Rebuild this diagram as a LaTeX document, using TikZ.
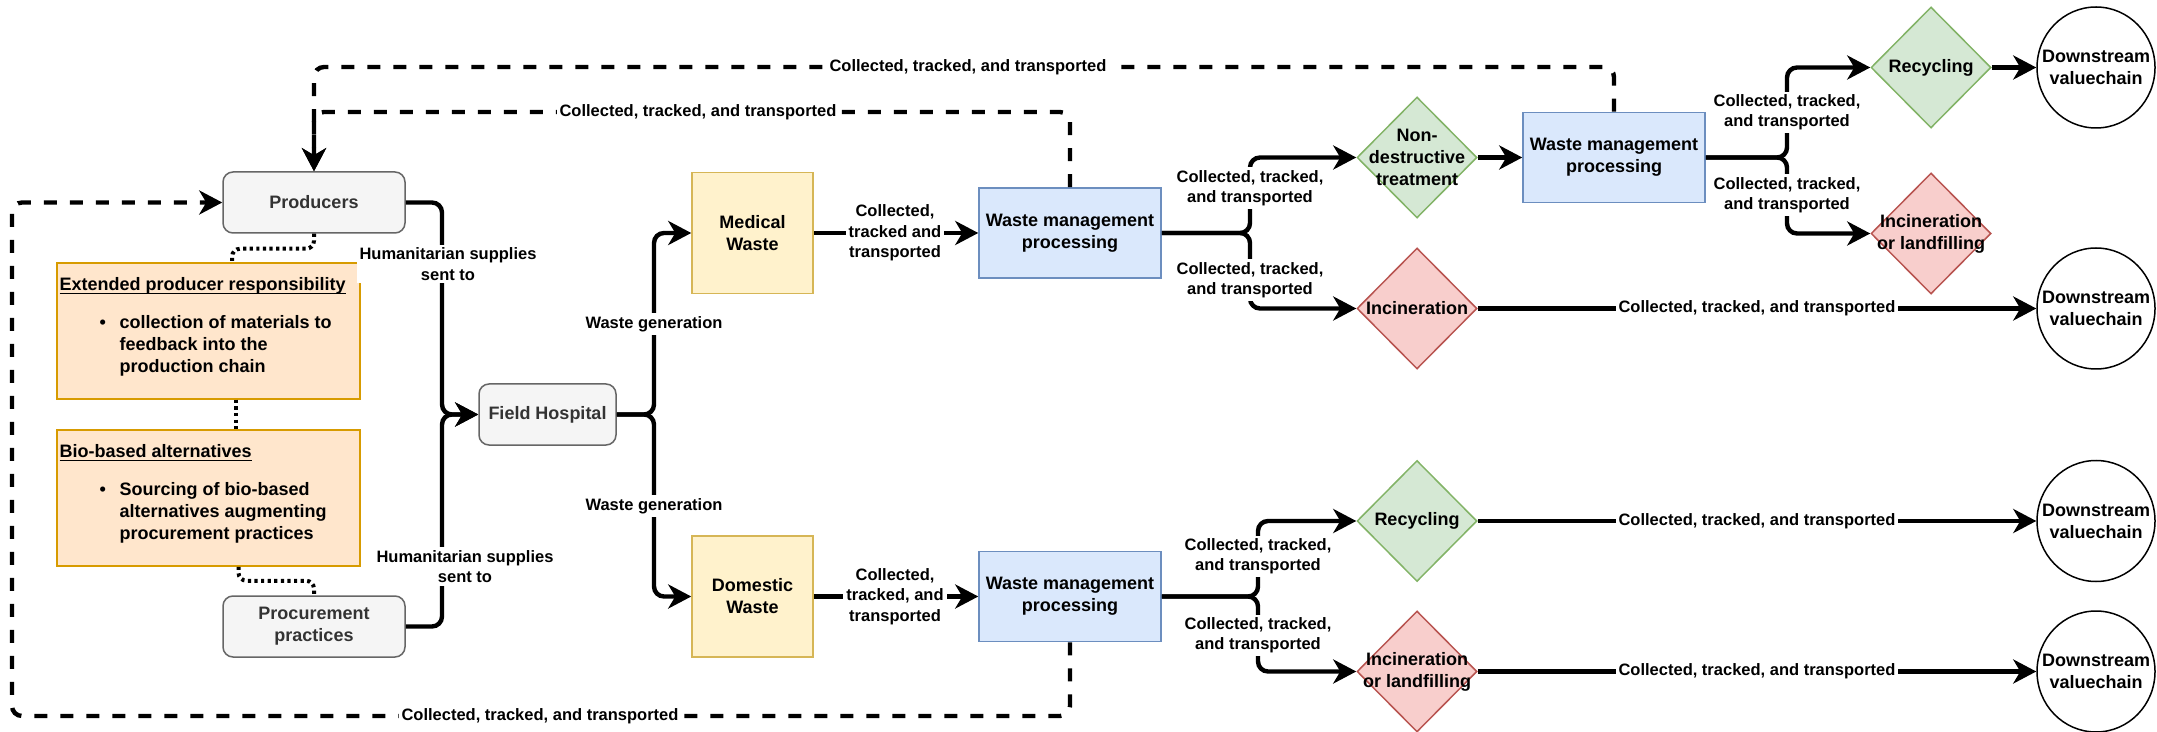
\documentclass[tikz,border=0pt]{standalone}
\usepackage{fontspec}
\setmainfont{Liberation Sans}
\usetikzlibrary{arrows.meta,shapes.geometric,calc}

\definecolor{greyfill}{HTML}{F5F5F5}
\definecolor{greyline}{HTML}{666666}
\definecolor{greytext}{HTML}{333333}
\definecolor{orfill}{HTML}{FFE6CC}
\definecolor{orline}{HTML}{D79B00}
\definecolor{yfill}{HTML}{FFF2CC}
\definecolor{yline}{HTML}{D6B656}
\definecolor{bfill}{HTML}{DAE8FC}
\definecolor{bline}{HTML}{6C8EBF}
\definecolor{gfill}{HTML}{D5E8D4}
\definecolor{gline}{HTML}{82B366}
\definecolor{rfill}{HTML}{F8CECC}
\definecolor{rline}{HTML}{B85450}

\newcommand\nodefont{\bfseries\fontsize{9}{11}\selectfont}
\newcommand\lblfont{\bfseries\fontsize{8.25}{10.2}\selectfont}
\newcommand\ulbox[1]{\setbox0\hbox{#1}\rlap{\rule[-2pt]{\wd0}{0.7pt}}\box0}
\newcommand\bulletitem{\makebox[30pt][l]{\hspace*{20pt}\textbullet}}

\begin{document}
\begin{tikzpicture}[x=0.5pt,y=-0.5pt,
  box/.style={draw, line width=0.75pt, inner sep=2pt, align=center, font=\nodefont},
  greybox/.style={box, fill=greyfill, draw=greyline, text=greytext, rounded corners=5pt,
    minimum width=91pt, minimum height=30.5pt},
  notebox/.style={box, fill=orfill, draw=orline, minimum width=151.5pt, minimum height=68pt},
  wastebox/.style={box, fill=yfill, draw=yline, minimum width=60.5pt, minimum height=60.5pt},
  procbox/.style={box, fill=bfill, draw=bline, minimum width=91pt, minimum height=45pt},
  decision/.style={diamond, draw, line width=0.75pt, inner sep=0pt,
    minimum width=60pt, minimum height=60.5pt},
  keep/.style={decision, fill=gfill, draw=gline},
  burn/.style={decision, fill=rfill, draw=rline},
  sink/.style={ellipse, draw, line width=0.75pt, fill=white, inner sep=0pt,
    minimum width=59pt, minimum height=60.5pt},
  inside/.style={label={[font=\nodefont, align=center]center:{#1}}},
  notetext/.style={label={[anchor=north west, inner sep=0pt, xshift=1.5pt, yshift=-7.25pt,
    align=left, font=\nodefont]north west:{#1}}},
  flow/.style={line width=2.2pt, rounded corners=5pt,
    -{Stealth[length=11.5pt, width=12pt, inset=3.5pt]}},
  back/.style={flow, dash pattern=on 6.5pt off 6.5pt},
  tie/.style={line width=2pt, rounded corners=4pt, dash pattern=on 1.6pt off 1.7pt},
  lbl/.style={fill=white, inner sep=1.5pt, align=center, font=\lblfont}]

\useasboundingbox (0,0) rectangle (2157,732);

% supply side
\node[greybox] (prod) at (314,202.5) {Producers};
\node[greybox] (proc) at (314,626.5) {Procurement\\practices};
\node[greybox, minimum width=68.5pt] (fh) at (547.5,414.5) {Field Hospital};
\node[notebox, notetext={\ulbox{Extended producer responsibility}\\[8pt]
  \bulletitem collection of materials to\\
  \hspace*{30pt}feedback into the\\
  \hspace*{30pt}production chain}] (epr) at (208.5,331) {};
\node[notebox, notetext={\ulbox{Bio-based alternatives}\\[8pt]
  \bulletitem Sourcing of bio-based\\
  \hspace*{30pt}alternatives augmenting\\
  \hspace*{30pt}procurement practices}] (bio) at (208.5,498) {};

% waste streams
\node[wastebox] (med) at (752.5,233) {Medical\\Waste};
\node[wastebox] (dom) at (752.5,596.5) {Domestic\\Waste};
\node[procbox] (wmp1) at (1070,233) {Waste management\\processing};
\node[procbox] (wmp3) at (1070,596.5) {Waste management\\processing};
\node[procbox] (wmp2) at (1614,157.5) {Waste management\\processing};

% treatment options
\node[keep, inside={Non-\\destructive\\treatment}] (nd) at (1417,157.5) {};
\node[burn, inside={Incineration}] (inc1) at (1417,308.5) {};
\node[keep, inside={Recycling}] (rec1) at (1931,67.5) {};
\node[burn, inside={Incineration\\or landfilling}] (il1) at (1931,233.5) {};
\node[keep, inside={Recycling}] (rec2) at (1417,521) {};
\node[burn, inside={Incineration\\or landfilling}] (il2) at (1417,671.5) {};

% end of chain
\node[sink, inside={Downstream\\valuechain}] (ds1) at (2096,67.5) {};
\node[sink, inside={Downstream\\valuechain}] (ds2) at (2096,308.5) {};
\node[sink, inside={Downstream\\valuechain}] (ds3) at (2096,521) {};
\node[sink, inside={Downstream\\valuechain}] (ds4) at (2096,671.5) {};

% bends of the branching connectors
\coordinate (jin) at (442,414.5);
\coordinate (jmed) at (654,233);
\coordinate (jdom) at (654,596.5);
\coordinate (ja) at (1250,157.5);
\coordinate (jb) at (1250,308.5);
\coordinate (jc) at (1787,67.5);
\coordinate (jd) at (1787,233.5);
\coordinate (je) at (1258,521);
\coordinate (jf) at (1258,671.5);
\coordinate (c1) at (314,67);
\coordinate (c2) at (314,112);
\coordinate (c3) at (12,716);

% dotted links between the supply side boxes
\draw[tie] (prod.south) -- ++(0,15) -| ([xshift=11.75pt]epr.north);
\draw[tie] ([xshift=13.75pt]epr.south) -- ([xshift=13.75pt]bio.north);
\draw[tie] ([xshift=15pt]bio.south) -- ++(0,14) -| (proc.north);

% main flow
\draw[flow] (prod.east) -| (jin) -- (fh.west);
\draw[flow] (proc.east) -| (jin) -- (fh.west);
\draw[flow] (fh.east) -| (jmed) -- (med.west);
\draw[flow] (fh.east) -| (jdom) -- (dom.west);
\draw[flow] (med.east) -- (wmp1.west);
\draw[flow] (dom.east) -- (wmp3.west);
\draw[flow] (wmp1.east) -| (ja) -- (nd.west);
\draw[flow] (wmp1.east) -| (jb) -- (inc1.west);
\draw[flow] (nd.east) -- (wmp2.west);
\draw[flow] (wmp2.east) -| (jc) -- (rec1.west);
\draw[flow] (wmp2.east) -| (jd) -- (il1.west);
\draw[flow] (rec1.east) -- (ds1.west);
\draw[flow] (inc1.east) -- (ds2.west);
\draw[flow] (wmp3.east) -| (je) -- (rec2.west);
\draw[flow] (wmp3.east) -| (jf) -- (il2.west);
\draw[flow] (rec2.east) -- (ds3.west);
\draw[flow] (il2.east) -- (ds4.west);

% return loops to the producers
\draw[back] (wmp2.north) |- (c1) -- (prod.north);
\draw[back] (wmp1.north) |- (c2) -- (prod.north);
\draw[back] (wmp3.south) |- (c3) |- (prod.west);

% connector labels
\node[lbl] (l1) at (448,264) {Humanitarian supplies\\sent to};
\node[lbl] (l2) at (465,566.5) {Humanitarian supplies\\sent to};
\node[lbl] (l3) at (654,324) {Waste generation};
\node[lbl] (l4) at (654,506) {Waste generation};
\node[lbl] (l5) at (895,233) {Collected,\\tracked and\\transported};
\node[lbl] (l6) at (895,596.5) {Collected,\\tracked, and\\transported};
\node[lbl] (l7) at (1250,188) {Collected, tracked,\\and transported};
\node[lbl] (l8) at (1250,280) {Collected, tracked,\\and transported};
\node[lbl] (l9) at (1787,112.5) {Collected, tracked,\\and transported};
\node[lbl] (l10) at (1787,195) {Collected, tracked,\\and transported};
\node[lbl] (l11) at (1258,556.5) {Collected, tracked,\\and transported};
\node[lbl] (l12) at (1258,635.5) {Collected, tracked,\\and transported};
\node[lbl] (l13) at (1757,308.5) {Collected, tracked, and transported};
\node[lbl] (l14) at (1757,521) {Collected, tracked, and transported};
\node[lbl] (l15) at (1757,671.5) {Collected, tracked, and transported};
\node[lbl] (l16) at (968,67) {Collected, tracked, and transported};
\node[lbl] (l17) at (698,112) {Collected, tracked, and transported};
\node[lbl] (l18) at (540,716) {Collected, tracked, and transported};

\end{tikzpicture}
\end{document}
